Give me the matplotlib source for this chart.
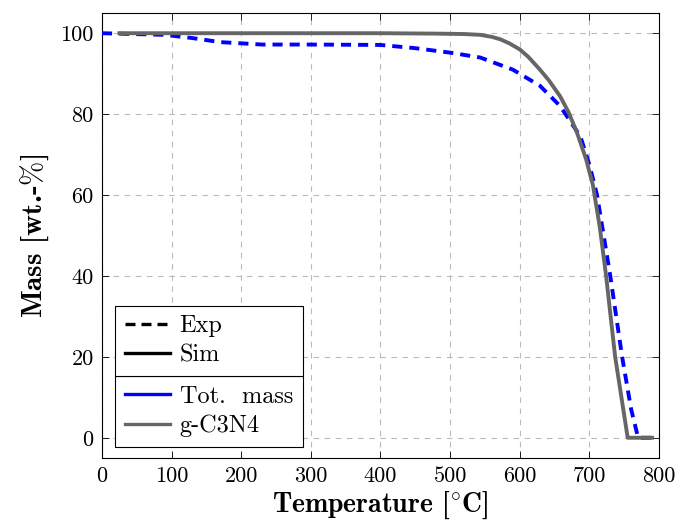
import matplotlib
matplotlib.use('Agg')
import matplotlib.pyplot as plt
from matplotlib.lines import Line2D

plt.rcParams['font.family'] = ['cmr10', 'DejaVu Serif']
plt.rcParams['mathtext.fontset'] = 'cm'
plt.rcParams['axes.unicode_minus'] = False

# experimental total mass (blue dashed)
exp_T = [0, 90, 130, 170, 230, 300, 400, 450, 500, 543, 590, 629, 658, 687, 700, 711, 730, 747, 760, 770, 795]
exp_m = [100, 99.6, 98.8, 97.8, 97.2, 97.2, 97.1, 96.3, 95.2, 94, 91, 87, 82, 74.5, 67.5, 60, 40, 20, 7, 0, 0]

# simulated g-C3N4 (gray solid)
sim_T = [25, 200, 400, 480, 520, 543, 560, 572, 585, 600, 612, 629, 642, 658, 670, 682, 695, 705, 715, 724, 737, 755, 790]
sim_m = [100, 100, 100, 99.9, 99.8, 99.6, 99.1, 98.5, 97.5, 96, 94.2, 91, 88.3, 84.4, 80.5, 75.5, 69, 62.5, 52, 40, 20, 0, 0]

blue = '#0000ff'
gray = '#666666'

fig = plt.figure(figsize=(6.83, 5.26), dpi=100)
ax = fig.add_axes([0.1493, 0.1293, 0.8156, 0.8460])

ax.plot(exp_T, exp_m, color=blue, lw=2.8, ls=(0, (2.6, 1.8)), zorder=3)
ax.plot(sim_T, sim_m, color=gray, lw=2.8, zorder=3)

ax.set_xlim(0, 800)
ax.set_ylim(-5, 105)
ax.set_xticks(range(0, 801, 100))
ax.set_yticks(range(0, 101, 20))
ax.tick_params(direction='in', top=True, right=True, labelsize=16, length=5, width=0.6, pad=6)
ax.grid(True, color='#bbbbbb', ls=(0, (5, 5)), lw=0.8)
for s in ax.spines.values():
    s.set_linewidth(0.8)

ax.set_xlabel(r'Temperature [$^{\circ}$C]', fontsize=20, family='cmb10', labelpad=3)
ax.set_ylabel(r'Mass [wt.-$\%$]', fontsize=21, family='cmb10', labelpad=7)

# legend: two stacked boxes, sharing one edge as the separator
style_h = [Line2D([], [], color='k', lw=2.4, ls=(0, (3.0, 1.8))),
           Line2D([], [], color='k', lw=2.4)]
series_h = [Line2D([], [], color=blue, lw=2.4),
            Line2D([], [], color=gray, lw=2.4)]
opts = dict(loc='lower left', mode='expand', fontsize=17.5, fancybox=False, edgecolor='k',
            framealpha=1, handlelength=1.85, handletextpad=0.41, labelspacing=0.28,
            borderpad=0.4, borderaxespad=0)
leg2 = ax.legend(series_h, ['Tot.  mass', 'g-C3N4'], bbox_to_anchor=(0.0233, 0.0247, 0.3375, 0), **opts)
leg2.get_frame().set_linewidth(0.8)
ax.add_artist(leg2)

fig.canvas.draw()
r = fig.canvas.get_renderer()
fb = leg2.get_frame().get_window_extent(r)
ytop = ax.transAxes.inverted().transform((fb.x0, fb.y1))[1]
leg1 = ax.legend(style_h, ['Exp', 'Sim'], bbox_to_anchor=(0.0233, ytop, 0.3375, 0), **opts)
leg1.get_frame().set_linewidth(0.8)

fig.savefig('out.png', dpi=100)
